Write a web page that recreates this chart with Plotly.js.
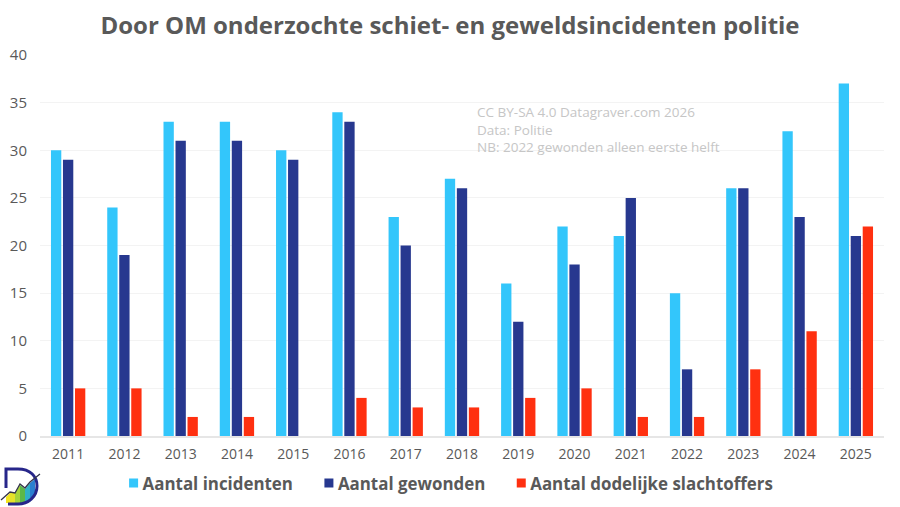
<!DOCTYPE html>
<html><head><meta charset="utf-8"><script src="https://cdn.plot.ly/plotly-3.0.1.min.js"></script>
<style>html,body{margin:0;padding:0;background:#fff}</style></head><body><div id="c" style="width:900px;height:507px"></div>
<script>
const years=["2011","2012","2013","2014","2015","2016","2017","2018","2019","2020","2021","2022","2023","2024","2025"];
const incidenten=[30,24,33,33,30,34,23,27,16,22,21,15,26,32,37];
const gewonden=[29,19,31,31,29,33,20,26,12,18,25,7,26,23,21];
const doden=[5,5,2,2,0,4,3,3,4,5,2,2,7,11,22];
const noteText="CC BY-SA 4.0 Datagraver.com 2026<br>Data: Politie<br>NB: 2022 gewonden alleen eerste helft";
const F="'Open Sans', sans-serif";
const logo='<svg xmlns="http://www.w3.org/2000/svg" viewBox="0 0 44 45"><path d="M6 35L10 31V41H6Z" fill="#f4e61e"/><path d="M10 31L15 31V41H10Z" fill="#e6e22a"/><path d="M15 31L20 23V41H15Z" fill="#a6d43a"/><path d="M20 23L25 27V41H20Z" fill="#5cb848"/><path d="M25 27L30 21V40L25 41Z" fill="#2fb0c8"/><path d="M30 21L35 17V32L30 40Z" fill="#2a7fd0"/><path d="M6 26V7H18C30 7 37 14 37 24C37 35 28 42 18 42H8" fill="none" stroke="#27268a" stroke-width="3"/><path d="M1 38L10 30L15 31L20 22L25 26L30 20L40 12" fill="none" stroke="#33334a" stroke-width="1.3"/></svg>';
const tr=(n,y,c)=>({type:'bar',name:n,x:years,y:y,marker:{color:c,line:{width:0}}});
Plotly.newPlot('c',[tr('Aantal incidenten',incidenten,'#33c6fb'),tr('Aantal gewonden',gewonden,'#27388f'),tr('Aantal dodelijke slachtoffers',doden,'#ff3010')],{
width:900,height:507,margin:{l:40,r:16,t:55,b:71},paper_bgcolor:'#fff',plot_bgcolor:'#fff',
font:{family:F,color:'#595959'},
title:{text:'<b>Door OM onderzochte schiet- en geweldsincidenten politie</b>',x:0.5,xanchor:'center',xref:'container',y:0.949,yanchor:'middle',font:{size:24,color:'#595959',family:F}},
barmode:'group',bargap:0.36,bargroupgap:0.14,
xaxis:{type:'category',showgrid:false,ticks:'',ticklabelstandoff:4,tickfont:{size:14,color:'#595959',family:F},linecolor:'#e6e6e6',linewidth:2,showline:true,fixedrange:true},
yaxis:{range:[0,40],dtick:5,gridcolor:'#f3f3f3',ticklabelstandoff:12,tickfont:{size:15,color:'#595959',family:F},zeroline:false,ticks:'',fixedrange:true},
legend:{orientation:'h',yref:'container',xref:'container',x:0.114,xanchor:'left',y:0.082,yanchor:'top',font:{size:16.9,color:'#595959',family:F,weight:700},traceorder:'normal'},
images:[{source:'data:image/svg+xml;charset=utf-8,'+encodeURIComponent(logo),xref:'paper',yref:'paper',x:-40/844,y:-26/381,sizex:44/844,sizey:45/381,xanchor:'left',yanchor:'top',sizing:'stretch',layer:'above'}],
annotations:[{xref:'paper',yref:'paper',x:435/844,y:(436-129)/381,xanchor:'left',yanchor:'middle',align:'left',showarrow:false,text:noteText,font:{size:13.5,color:'#c6c6c6',family:F}}]
},{displayModeBar:false}).then(()=>{
document.querySelectorAll('.legendpoints path').forEach(p=>{p.setAttribute('d','M4.5,4.5H-4.5V-4.5H4.5Z');p.setAttribute('transform','translate(31,0)');});
});
</script></body></html>
